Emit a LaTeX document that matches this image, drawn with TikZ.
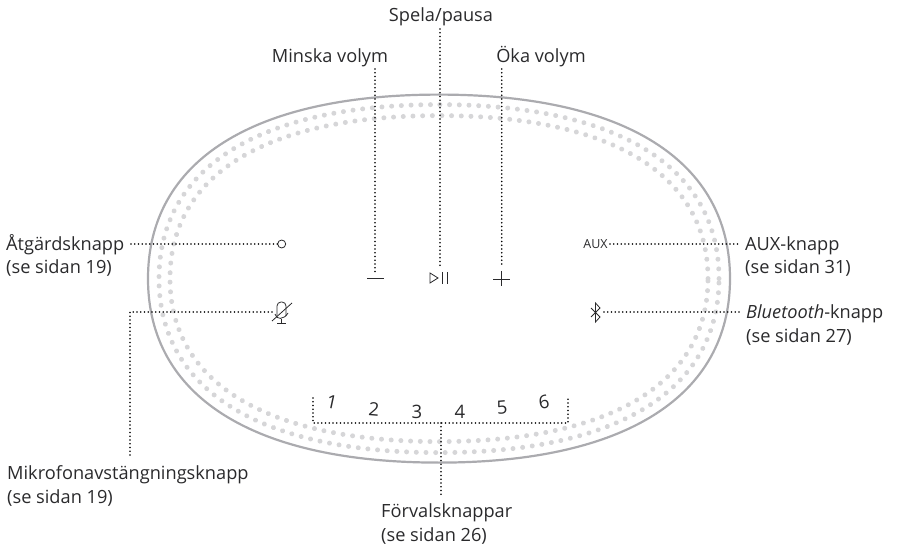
\documentclass[tikz,border=0pt]{standalone}
\usepackage{fontspec}
\setmainfont{Open Sans}
\usetikzlibrary{decorations.markings}
\definecolor{shellgray}{HTML}{ABABAF}
\definecolor{holegray}{HTML}{D6D6D8}
\definecolor{inkgray}{HTML}{2A2A2C}
\tikzset{
	dotline/.style={draw=black, line width=1.7pt, line cap=round, dash pattern=on 0pt off 3.75pt},
	iconline/.style={draw=inkgray, line width=0.8pt},
	label/.style={inner sep=0pt, align=left, text=inkgray, anchor=base west, font=\fontsize{18.2}{24}\selectfont},
	preset/.style={inner sep=0pt, text=inkgray, font=\fontsize{18.5}{20}\selectfont},
	holes/.style={postaction={decorate}, decoration={markings, mark=between positions 0 and 0.999 step 9.7pt with {\fill[holegray] (0,0) circle (2.5pt);}}}
}
\newcommand{\shellpath}[2]{(439+#1,278.6) .. controls (439+#1,278.6-0.64*#2) and (439+0.64*#1,278.6-#2) .. (439,278.6-#2) .. controls (439-0.64*#1,278.6-#2) and (439-#1,278.6-0.64*#2) .. (439-#1,278.6) .. controls (439-#1,278.6+0.64*#2) and (439-0.64*#1,278.6+#2) .. (439,278.6+#2) .. controls (439+0.64*#1,278.6+#2) and (439+#1,278.6+0.64*#2) .. (439+#1,278.6)}
\begin{document}
\begin{tikzpicture}[x=1pt, y=-1pt]
	\useasboundingbox (0,0) rectangle (900,548);
	% Speaker shell and holes:
	\path[holes] \shellpath{280}{174};
	\path[holes] \shellpath{269}{163};
	\draw[shellgray, line width=2.2pt] \shellpath{291}{184};
	% Labels:
	\node[label, anchor=base] (play) at (441,21.5) {Spela/pausa};
	\node[label, anchor=base] (minus) at (330,62.5) {Minska volym};
	\node[label, anchor=base] (plus) at (541,62.5) {Öka volym};
	\node[label] (action) at (6,274) {Åtgärdsknapp\\(se sidan 19)};
	\node[label] (aux) at (745,274) {AUX-knapp\\(se sidan 31)};
	\node[label] (blue) at (746,342.5) {\textit{Bluetooth}-knapp\\(se sidan 27)};
	\node[label] (mic) at (7,503) {Mikrofonavstängningsknapp\\(se sidan 19)};
	\node[label] (presets) at (381,541.5) {Förvalsknappar\\(se sidan 26)};
	% Presets:
	\node[preset, rotate=-12] (p1) at (332,402) {1};
	\node[preset, rotate=-5] (p2) at (374,409) {2};
	\node[preset] (p3) at (417,412) {3};
	\node[preset] (p4) at (460,412) {4};
	\node[preset, rotate=5] (p5) at (502,408) {5};
	\node[preset, rotate=10] (p6) at (544,402) {6};
	% Icons:
	\node[draw=inkgray, line width=0.8pt, circle, minimum size=8pt, inner sep=0pt] (actionicon) at (281.7,244) {};
	\node[inner sep=0pt, text=inkgray, font=\fontsize{12.5}{13}\selectfont] (auxicon) at (595.5,244) {AUX};
	\draw[iconline] (367,278) -- (384,278);
	\draw[iconline] (430,273) -- (438,278) -- (430,283) -- cycle;
	\draw[iconline] (442,272) -- (442,284);
	\draw[iconline] (447.7,272) -- (447.7,284);
	\draw[iconline] (493,279) -- (510,279);
	\draw[iconline] (501.7,271) -- (501.7,286);
	\draw[iconline, rounded corners=4pt] (277,316) -- (277,302) -- (286,302) -- (286,316);
	\draw[iconline] (272,321) -- (292,303);
	\draw[iconline] (275,314) .. controls (276,320) and (284,320) .. (288,313);
	\draw[iconline] (281.5,319) -- (281.5,323);
	\draw[iconline] (277,323) -- (286,323);
	\draw[iconline] (591,308) -- (600,317) -- (595.5,322) -- (595.5,303) -- (600,308) -- (591,317);
	% Connectors:
	\coordinate (playstart) at (440,29);
	\coordinate (playend) at (440,267);
	\coordinate (minusstart) at (375,69);
	\coordinate (minusend) at (375,273);
	\coordinate (plusstart) at (501.7,69);
	\coordinate (plusend) at (501.7,267);
	\coordinate (actionstart) at (131,244);
	\coordinate (micknee) at (130,312);
	\coordinate (micicon) at (272,312);
	\coordinate (micend) at (130,457);
	\coordinate (auxstart) at (610,244);
	\coordinate (auxend) at (741,244);
	\coordinate (bluestart) at (604,312);
	\coordinate (blueend) at (741,312);
	\coordinate (presetlefttop) at (313,398);
	\coordinate (presetleft) at (313,423);
	\coordinate (presetright) at (568,423);
	\coordinate (presetrighttop) at (568,398);
	\coordinate (presetmid) at (441,423);
	\coordinate (presetend) at (441,496);
	\draw[dotline] (playstart) -- (playend);
	\draw[dotline] (minusstart) -- (minusend);
	\draw[dotline] (plusstart) -- (plusend);
	\draw[dotline] (actionstart) -- (actionicon.west);
	\draw[dotline] (micicon) -- (micknee) -- (micend);
	\draw[dotline] (auxstart) -- (auxend);
	\draw[dotline] (bluestart) -- (blueend);
	\draw[dotline] (presetlefttop) -- (presetleft) -- (presetright) -- (presetrighttop);
	\draw[dotline] (presetmid) -- (presetend);
\end{tikzpicture}
\end{document}
